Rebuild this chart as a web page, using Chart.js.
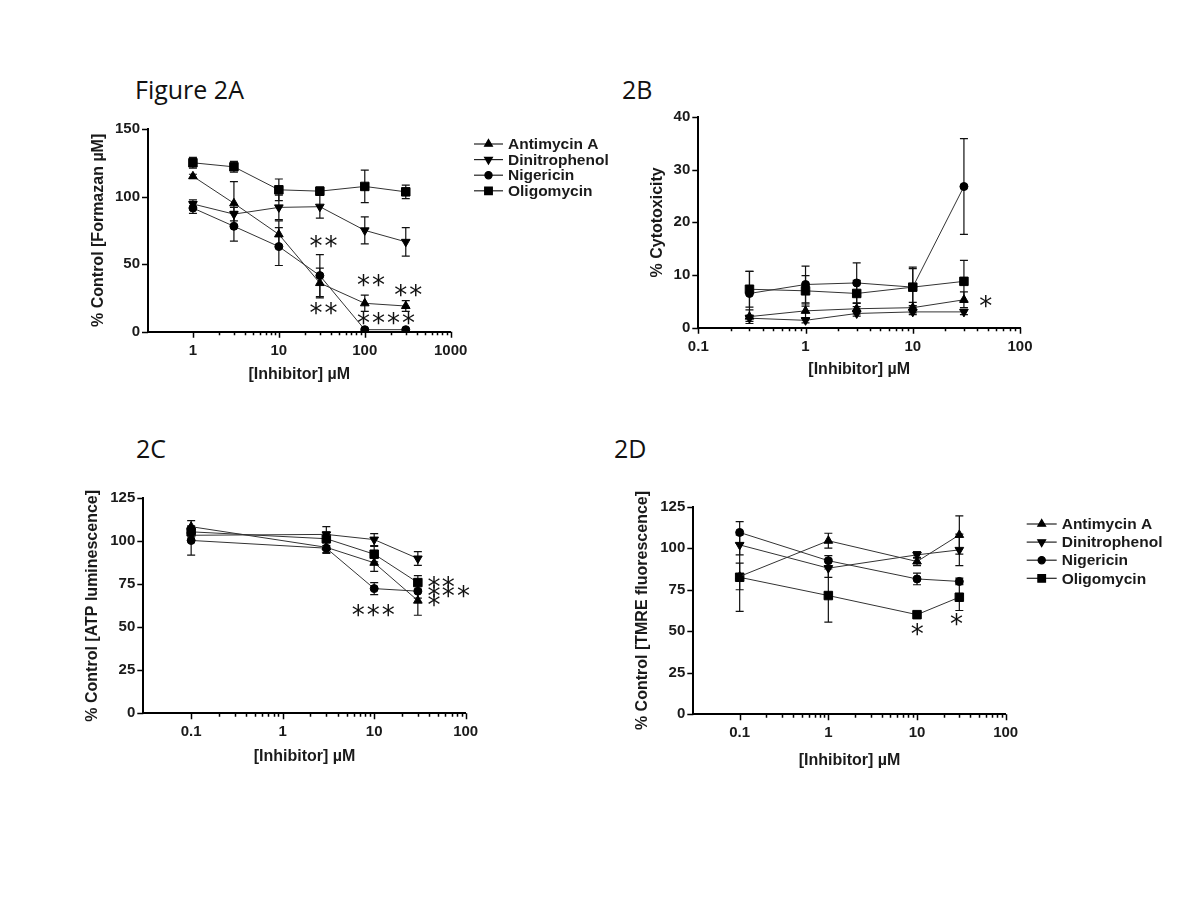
<!DOCTYPE html>
<html>
<head>
<meta charset="utf-8">
<script src="https://cdn.jsdelivr.net/npm/chart.js@4"></script>
<style>
  body { margin: 0; background: #fff; }
  #wrap { position: relative; width: 1200px; height: 900px; }
  canvas { position: absolute; }
  .ptitle { position: absolute; font-family: "Open Sans", sans-serif; font-size: 25px; line-height: 25px; color: #111; }
</style>
</head>
<body>
<div id="wrap">
  <div class="ptitle" style="left:135px;top:77px">Figure 2A</div>
  <div class="ptitle" style="left:622px;top:77px">2B</div>
  <div class="ptitle" style="left:136px;top:436px">2C</div>
  <div class="ptitle" style="left:614px;top:436px">2D</div>
  <canvas id="chartA" width="600" height="300" style="left:40px;top:100px"></canvas>
  <canvas id="chartB" width="460" height="300" style="left:600px;top:100px"></canvas>
  <canvas id="chartC" width="460" height="320" style="left:40px;top:460px"></canvas>
  <canvas id="chartD" width="600" height="320" style="left:600px;top:460px"></canvas>
</div>
<script>
const seriesNames = ['Antimycin A', 'Dinitrophenol', 'Nigericin', 'Oligomycin'];

// Figure 2A - formazan
const concA = [1, 3, 10, 30, 100, 300];
const antimycinA = [115, 95, 72, 36, 21, 19];
const antimycinAErr = [1.5, 16, 10, 11, 6, 4];
const dinitroA = [94.5, 87, 92, 92.5, 75, 66.5];
const dinitroAErr = [3, 5, 9, 8.5, 10, 10.5];
const nigericinA = [91.5, 78, 63, 41.5, 1.5, 1.5];
const nigericinAErr = [4, 11, 14, 15.5, 1, 1];
const oligoA = [125, 122, 105, 104, 107.5, 103.5];
const oligoAErr = [4, 4, 8, 3, 12, 5];
const xLabelsA = [1, 10, 100, 1000];
const yTicksA = [0, 50, 100, 150];
const starTextA = ['**', '**', '**', '**', '****'];
const starXA = [34, 34, 121, 330, 181];
const starYA = [66.6, 17.3, 38.2, 30.8, 9.4];

// Figure 2B - cytotoxicity
const concB = [0.3, 1, 3, 10, 30];
const antimycinB = [2.1, 3.2, 3.6, 3.8, 5.3];
const antimycinBErr = [1.3, 1.3, 1.0, 1.0, 1.5];
const dinitroB = [1.8, 1.4, 2.7, 3.0, 3.0];
const dinitroBErr = [0.6, 0.5, 0.5, 0.5, 0.5];
const nigericinB = [6.5, 8.2, 8.5, 7.7, 26.8];
const nigericinBErr = [4.2, 3.5, 3.8, 3.8, 9.1];
const oligoB = [7.3, 7.0, 6.5, 7.7, 8.8];
const oligoBErr = [3.4, 2.9, 2.5, 3.5, 4.0];
const xLabelsB = [0.1, 1, 10, 100];
const yTicksB = [0, 10, 20, 30, 40];
const starTextB = ['*'];
const starXB = [49];
const starYB = [4.9];

// Figure 2C - ATP luminescence
const concC = [0.1, 3, 10, 30];
const antimycinC = [108.5, 96.5, 87.5, 65.5];
const antimycinCErr = [3.5, 3, 5, 8.5];
const dinitroC = [103.5, 104, 101, 90];
const dinitroCErr = [3, 4.5, 3.5, 4];
const nigericinC = [100.5, 96, 72.5, 71];
const nigericinCErr = [8.5, 3, 3.5, 4];
const oligoC = [105.5, 101.5, 92.5, 76];
const oligoCErr = [3, 4, 4.5, 4];
const xLabelsC = [0.1, 1, 10, 100];
const yTicksC = [0, 25, 50, 75, 100, 125];
const starTextC = ['***', '*', '*', '*', '*', '*', '*'];
const starXC = [10, 46.3, 46.3, 46.3, 66.2, 66.2, 96.8];
const starYC = [59.6, 75.9, 70.7, 65.5, 75.9, 70.7, 70.7];

// Figure 2D - TMRE fluorescence
const concD = [0.1, 1, 10, 30];
const antimycinD = [83, 104.5, 92, 108];
const antimycinDErr = [8, 4.5, 2.5, 11.5];
const dinitroD = [102, 88, 96, 99];
const dinitroDErr = [6, 5.5, 2, 9.5];
const nigericinD = [109.5, 92.5, 81.5, 80];
const nigericinDErr = [6.5, 3, 3.5, 2];
const oligoD = [82.5, 71.5, 60, 70.5];
const oligoDErr = [20.5, 16, 1, 8];
const xLabelsD = [0.1, 1, 10, 100];
const yTicksD = [0, 25, 50, 75, 100, 125];
const starTextD = ['*', '*'];
const starXD = [10.3, 28.6];
const starYD = [50.8, 56.8];

const markerStyles = [
  { pointStyle: 'triangle', rotation: 0, radius: 5 },
  { pointStyle: 'triangle', rotation: 180, radius: 5 },
  { pointStyle: 'circle', rotation: 0, radius: 4 },
  { pointStyle: 'rect', rotation: 0, radius: 6 },
];

const textColor = '#1a1a1a';
const labelFont = { family: '"Liberation Sans", Arial, sans-serif', size: 15, weight: 'bold' };
const titleFont = { family: '"Liberation Sans", Arial, sans-serif', size: 16, weight: 'bold' };

function logTicks(labels, min) {
  const vals = [];
  labels.forEach((d, i) => {
    vals.push(d);
    if (i < labels.length - 1) {
      for (let k = 2; k <= 9; k++) vals.push(d * k);
    }
  });
  return vals.filter((v) => v >= min);
}

const tickMarks = {
  id: 'tickMarks',
  afterDraw(chart) {
    const { ctx } = chart;
    const xs = chart.scales.x;
    const ys = chart.scales.y;
    const labels = chart.options.plugins.tickMarks.labels;
    ctx.save();
    ctx.strokeStyle = '#000';
    ctx.lineWidth = 1.5;
    ctx.beginPath();
    xs.ticks.forEach((t) => {
      const px = Math.round(xs.getPixelForValue(t.value)) + 0.5;
      const len = labels.includes(t.value) ? 6 : 3.5;
      ctx.moveTo(px, xs.top);
      ctx.lineTo(px, xs.top + len);
    });
    ys.ticks.forEach((t) => {
      const py = Math.round(ys.getPixelForValue(t.value)) + 0.5;
      ctx.moveTo(ys.right, py);
      ctx.lineTo(ys.right - 6, py);
    });
    ctx.stroke();
    ctx.restore();
  },
};

const errorBars = {
  id: 'errorBars',
  beforeDatasetsDraw(chart) {
    const { ctx } = chart;
    const ys = chart.scales.y;
    ctx.save();
    ctx.strokeStyle = '#111';
    ctx.lineWidth = 1.2;
    chart.data.datasets.forEach((ds, i) => {
      const meta = chart.getDatasetMeta(i);
      ds.errors.forEach((e, j) => {
        const pt = meta.data[j];
        const v = ds.data[j].y;
        const top = ys.getPixelForValue(v + e);
        const bot = ys.getPixelForValue(Math.max(v - e, 0));
        ctx.beginPath();
        ctx.moveTo(pt.x, top);
        ctx.lineTo(pt.x, bot);
        ctx.moveTo(pt.x - 4, top);
        ctx.lineTo(pt.x + 4, top);
        ctx.moveTo(pt.x - 4, bot);
        ctx.lineTo(pt.x + 4, bot);
        ctx.stroke();
      });
    });
    ctx.restore();
  },
};

const stars = {
  id: 'stars',
  afterDatasetsDraw(chart) {
    const opts = chart.options.plugins.stars;
    const { ctx } = chart;
    ctx.save();
    ctx.fillStyle = '#111';
    ctx.font = '26px "DejaVu Sans", sans-serif';
    ctx.textAlign = 'center';
    ctx.textBaseline = 'alphabetic';
    if ('letterSpacing' in ctx) ctx.letterSpacing = '2px';
    opts.texts.forEach((t, i) => {
      const px = chart.scales.x.getPixelForValue(opts.xs[i]);
      const py = chart.scales.y.getPixelForValue(opts.ys[i]);
      const m = ctx.measureText(t);
      const off = (m.actualBoundingBoxAscent - m.actualBoundingBoxDescent) / 2;
      ctx.fillText(t, px, py + off);
    });
    ctx.restore();
  },
};

const figLegend = {
  id: 'figLegend',
  afterDraw(chart) {
    const opts = chart.options.plugins.figLegend;
    if (!opts.show) return;
    const { ctx } = chart;
    ctx.save();
    seriesNames.forEach((name, i) => {
      const y = opts.y + i * opts.gap;
      ctx.strokeStyle = '#222';
      ctx.lineWidth = 1.2;
      ctx.beginPath();
      ctx.moveTo(opts.x, y);
      ctx.lineTo(opts.x + opts.lineLen, y);
      ctx.stroke();
      ctx.fillStyle = '#000';
      ctx.strokeStyle = '#000';
      const m = markerStyles[i];
      Chart.helpers.drawPoint(ctx, { pointStyle: m.pointStyle, rotation: m.rotation, radius: m.radius * 0.9, borderWidth: 1 }, opts.x + opts.lineLen / 2, y);
      ctx.fillStyle = textColor;
      ctx.font = 'bold 15.5px "Liberation Sans", Arial, sans-serif';
      ctx.textBaseline = 'middle';
      ctx.textAlign = 'left';
      ctx.fillText(name, opts.textX, y + 1);
    });
    ctx.restore();
  },
};

function makePanel(id, p) {
  const datasets = p.series.map((vals, i) => ({
    label: seriesNames[i],
    data: p.conc.map((c, j) => ({ x: c, y: vals[j] })),
    errors: p.errs[i],
    borderColor: '#333',
    borderWidth: 1,
    backgroundColor: '#000',
    pointBackgroundColor: '#000',
    pointBorderColor: '#000',
    pointBorderWidth: 1,
    pointStyle: markerStyles[i].pointStyle,
    pointRotation: markerStyles[i].rotation,
    pointRadius: markerStyles[i].radius,
    tension: 0,
    fill: false,
  }));

  return new Chart(document.getElementById(id), {
    type: 'line',
    data: { datasets },
    options: {
      responsive: false,
      animation: false,
      devicePixelRatio: 1,
      layout: { padding: p.pad },
      plugins: {
        legend: { display: false },
        tooltip: { enabled: false },
        tickMarks: { labels: p.xLabels },
        stars: { texts: p.starText, xs: p.starX, ys: p.starY },
        figLegend: p.legend || { show: false },
      },
      scales: {
        x: {
          type: 'logarithmic',
          min: p.xMin,
          max: p.xLabels[p.xLabels.length - 1],
          afterBuildTicks: (s) => { s.ticks = logTicks(p.xLabels, p.xMin).map((v) => ({ value: v })); },
          afterFit: (s) => { s.height = p.xH; },
          grid: { display: false, drawTicks: false },
          border: { display: true, color: '#000', width: 2 },
          ticks: {
            autoSkip: false,
            maxRotation: 0,
            padding: 10,
            color: textColor,
            font: labelFont,
            callback: (v) => (p.xLabels.includes(v) ? String(v) : ''),
          },
          title: { display: true, text: '[Inhibitor] µM', color: textColor, font: titleFont, padding: 0 },
        },
        y: {
          type: 'linear',
          min: 0,
          max: p.yTicks[p.yTicks.length - 1],
          afterBuildTicks: (s) => { s.ticks = p.yTicks.map((v) => ({ value: v })); },
          afterFit: (s) => { s.width = p.yW; },
          grid: { display: false, drawTicks: false },
          border: { display: true, color: '#000', width: 2 },
          ticks: { padding: 8, color: textColor, font: labelFont },
          title: { display: true, text: p.yTitle, color: textColor, font: titleFont, padding: 0 },
        },
      },
    },
    plugins: [errorBars, tickMarks, stars, figLegend],
  });
}

makePanel('chartA', {
  conc: concA,
  series: [antimycinA, dinitroA, nigericinA, oligoA],
  errs: [antimycinAErr, dinitroAErr, nigericinAErr, oligoAErr],
  xLabels: xLabelsA, yTicks: yTicksA, xMin: 0.3,
  starText: starTextA, starX: starXA, starY: starYA,
  yTitle: '% Control [Formazan µM]',
  pad: { left: 49.4, right: 189.3, top: 29, bottom: 15.4 }, yW: 58.6, xH: 52.9,
  legend: { show: true, x: 434, y: 44, gap: 15.6, lineLen: 29, textX: 468 },
});

makePanel('chartB', {
  conc: concB,
  series: [antimycinB, dinitroB, nigericinB, oligoB],
  errs: [antimycinBErr, dinitroBErr, nigericinBErr, oligoBErr],
  xLabels: xLabelsB, yTicks: yTicksB, xMin: 0.1,
  starText: starTextB, starX: starXB, starY: starYB,
  yTitle: '% Cytotoxicity',
  pad: { left: 48.4, right: 40, top: 15, bottom: 20.4 }, yW: 49.9, xH: 51.9,
});

makePanel('chartC', {
  conc: concC,
  series: [antimycinC, dinitroC, nigericinC, oligoC],
  errs: [antimycinCErr, dinitroCErr, nigericinCErr, oligoCErr],
  xLabels: xLabelsC, yTicks: yTicksC, xMin: 0.03,
  starText: starTextC, starX: starXC, starY: starYC,
  yTitle: '% Control [ATP luminescence]',
  pad: { left: 42.9, right: 34.3, top: 38.3, bottom: 13.4 }, yW: 60.4, xH: 53.3,
});

makePanel('chartD', {
  conc: concD,
  series: [antimycinD, dinitroD, nigericinD, oligoD],
  errs: [antimycinDErr, dinitroDErr, nigericinDErr, oligoDErr],
  xLabels: xLabelsD, yTicks: yTicksD, xMin: 0.03,
  starText: starTextD, starX: starXD, starY: starYD,
  yTitle: '% Control [TMRE fluorescence]',
  pad: { left: 32.9, right: 194.3, top: 46.7, bottom: 9.4 }, yW: 60.4, xH: 56.3,
  legend: { show: true, x: 426.7, y: 64, gap: 18.1, lineLen: 30, textX: 461.7 },
});
</script>
</body>
</html>
